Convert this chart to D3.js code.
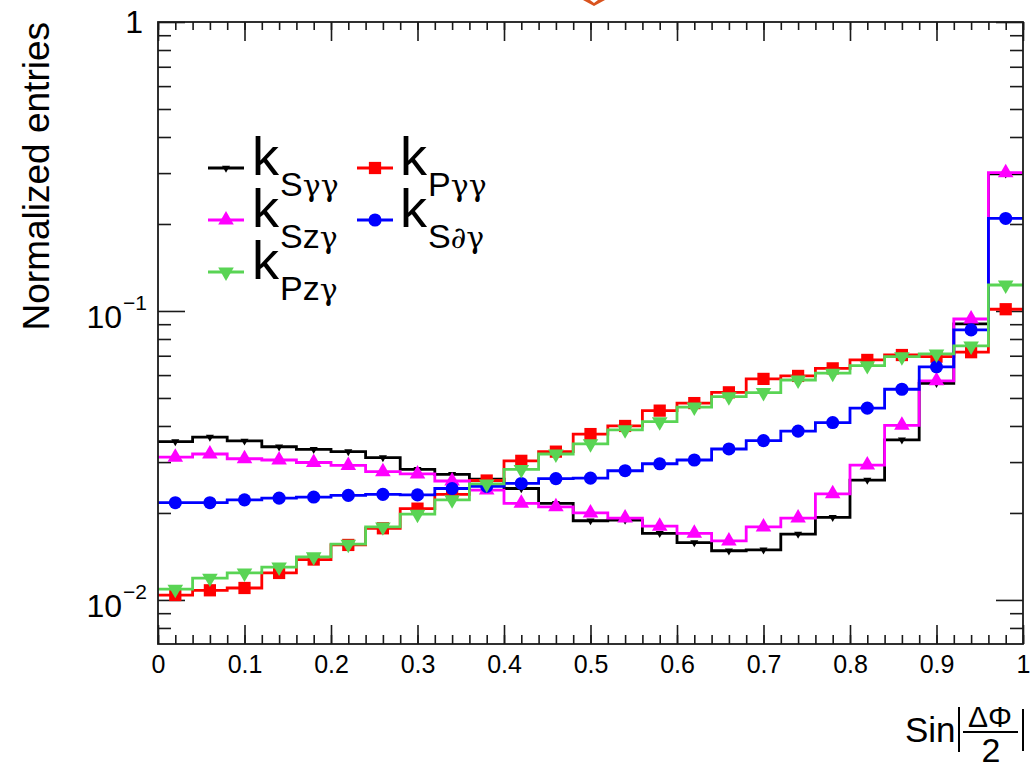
<!DOCTYPE html>
<html>
<head>
<meta charset="utf-8">
<script src="https://cdn.jsdelivr.net/npm/d3@7"></script>
<style>
  html, body { margin: 0; padding: 0; background: #fff; }
  svg { display: block; }
  text { font-family: "Liberation Sans", Arial, Helvetica, sans-serif; fill: #000; }
</style>
</head>
<body>
<svg id="chart" width="1035" height="765"></svg>
<script>
// ---------------- data ----------------
const binEdges = d3.range(0, 26).map(i => i * 0.04);
const binCenters = d3.range(0, 25).map(i => 0.02 + i * 0.04);

const kSgg = [0.0353, 0.0366, 0.0355, 0.0339, 0.0332, 0.0326, 0.0311, 0.0283, 0.0272, 0.0262, 0.0243, 0.0216, 0.0188, 0.0189, 0.0170, 0.0158, 0.0148, 0.0149, 0.0169, 0.0193, 0.0260, 0.0358, 0.0562, 0.0902, 0.298];
const kPgg = [0.0104, 0.0108, 0.0110, 0.0124, 0.0138, 0.0155, 0.0177, 0.0207, 0.0232, 0.0259, 0.0303, 0.0326, 0.0375, 0.0400, 0.0452, 0.0480, 0.0523, 0.0582, 0.0596, 0.0633, 0.0677, 0.0704, 0.0695, 0.0720, 0.1014];
const kSzg = [0.0312, 0.0320, 0.0308, 0.0305, 0.0299, 0.0292, 0.0278, 0.0273, 0.0258, 0.0240, 0.0216, 0.0210, 0.0200, 0.0192, 0.0180, 0.0170, 0.0160, 0.0179, 0.0192, 0.0233, 0.0293, 0.0402, 0.0573, 0.0938, 0.301];
const kSdg = [0.0217, 0.0217, 0.0222, 0.0225, 0.0227, 0.0230, 0.0232, 0.0231, 0.0243, 0.0247, 0.0253, 0.0263, 0.0264, 0.0280, 0.0296, 0.0305, 0.0333, 0.0356, 0.0384, 0.0411, 0.0461, 0.0536, 0.0641, 0.0860, 0.209];
const kPzg = [0.0109, 0.0119, 0.0124, 0.0130, 0.0141, 0.0156, 0.0179, 0.0198, 0.0222, 0.0252, 0.0283, 0.0320, 0.0347, 0.0388, 0.0414, 0.0465, 0.0505, 0.0522, 0.0577, 0.0609, 0.0647, 0.0695, 0.0710, 0.0757, 0.123];

const seriesNames = ["Sγγ", "Pγγ", "Szγ", "S∂γ", "Pzγ"];
const seriesValues = [kSgg, kPgg, kSzg, kSdg, kPzg];
const seriesColors = ["#000000", "#ff0000", "#ff00ff", "#0000ff", "#59d454"];
const seriesMarkers = ["tiny", "square", "triUp", "circle", "triDown"];

const xTickValues = [0, 0.1, 0.2, 0.3, 0.4, 0.5, 0.6, 0.7, 0.8, 0.9, 1];
const xTickLabels = ["0", "0.1", "0.2", "0.3", "0.4", "0.5", "0.6", "0.7", "0.8", "0.9", "1"];
const yMajorTicks = [0.01, 0.1, 1];
const yTickBase = ["10", "10", "1"];
const yTickExp = ["\u22122", "\u22121", ""];
const yMinorTicks = [0.008, 0.009, 0.02, 0.03, 0.04, 0.05, 0.06, 0.07, 0.08, 0.09, 0.2, 0.3, 0.4, 0.5, 0.6, 0.7, 0.8, 0.9];
const xMinorTicks = d3.range(0, 51).map(i => i * 0.02);

const yTitle = "Normalized entries";

// ---------------- layout ----------------
const L = 158, R = 1023, T = 22, B = 644;
const svg = d3.select("#chart");
const x = d3.scaleLinear().domain([0, 1]).range([L, R]);
const y = d3.scaleLog().domain([0.00704, 1]).range([B, T]);
const frameColor = "#1a1a1a";

// small orange glyph at top (clipped title decoration)
svg.append("path").attr("d", "M583,0 L590,0 L594,3 L598,0 L605,0 L594,6 Z").attr("fill", "#d9531e");

// ---------------- axes / ticks ----------------
function styleAxis(g) {
  g.select(".domain").remove();
  g.selectAll(".tick line").attr("stroke", frameColor).attr("stroke-width", 1.6);
}
svg.append("g").attr("transform", `translate(0,${B})`)
  .call(d3.axisBottom(x).tickValues(xTickValues).tickSize(-19).tickSizeOuter(0).tickPadding(11)
    .tickFormat((d, i) => xTickLabels[i]))
  .call(styleAxis)
  .call(g => g.selectAll(".tick text").attr("font-size", 25).attr("font-family", "Liberation Sans, Arial, sans-serif").attr("fill", "#000"));
svg.append("g").attr("transform", `translate(0,${B})`)
  .call(d3.axisBottom(x).tickValues(xMinorTicks).tickSize(-9).tickSizeOuter(0).tickFormat(""))
  .call(styleAxis);
svg.append("g").attr("transform", `translate(0,${T})`)
  .call(d3.axisTop(x).tickValues(xTickValues).tickSize(-19).tickSizeOuter(0).tickFormat(""))
  .call(styleAxis);
svg.append("g").attr("transform", `translate(0,${T})`)
  .call(d3.axisTop(x).tickValues(xMinorTicks).tickSize(-8).tickSizeOuter(0).tickFormat(""))
  .call(styleAxis);
svg.append("g").attr("transform", `translate(${L},0)`)
  .call(d3.axisLeft(y).tickValues(yMajorTicks).tickSize(-27).tickSizeOuter(0).tickFormat(""))
  .call(styleAxis);
svg.append("g").attr("transform", `translate(${L},0)`)
  .call(d3.axisLeft(y).tickValues(yMinorTicks).tickSize(-13).tickSizeOuter(0).tickFormat(""))
  .call(styleAxis);
svg.append("g").attr("transform", `translate(${R},0)`)
  .call(d3.axisRight(y).tickValues(yMajorTicks).tickSize(-27).tickSizeOuter(0).tickFormat(""))
  .call(styleAxis);
svg.append("g").attr("transform", `translate(${R},0)`)
  .call(d3.axisRight(y).tickValues(yMinorTicks).tickSize(-13).tickSizeOuter(0).tickFormat(""))
  .call(styleAxis);

// y tick labels with exponents
yMajorTicks.forEach((v, i) => {
  const t = svg.append("text").attr("text-anchor", "end").attr("x", 147);
  if (yTickExp[i]) {
    t.attr("y", y(v) + 17);
    t.append("tspan").attr("font-size", 32).text(yTickBase[i]);
    t.append("tspan").attr("font-size", 21).attr("dy", -18).attr("dx", 1).text(yTickExp[i]);
  } else {
    t.attr("x", 143).attr("y", y(v) + 11).attr("font-size", 32).text(yTickBase[i]);
  }
});

// y axis title
svg.append("text")
  .attr("transform", `translate(49,${T}) rotate(-90)`)
  .attr("text-anchor", "end")
  .attr("font-size", 37)
  .text(yTitle);

// x axis title: Sin|ΔΦ/2|
svg.append("text").attr("x", 905).attr("y", 742).attr("font-size", 35).text("Sin");
svg.append("text").attr("x", 990).attr("y", 727).attr("font-size", 30).attr("text-anchor", "middle").text("ΔΦ");
svg.append("text").attr("x", 991).attr("y", 762).attr("font-size", 34).attr("text-anchor", "middle").text("2");
svg.append("line").attr("x1", 963).attr("x2", 1018).attr("y1", 732).attr("y2", 732).attr("stroke", "#000").attr("stroke-width", 2);
svg.append("line").attr("x1", 959).attr("x2", 959).attr("y1", 707).attr("y2", 752).attr("stroke", "#000").attr("stroke-width", 2);
svg.append("line").attr("x1", 1023).attr("x2", 1023).attr("y1", 709).attr("y2", 751).attr("stroke", "#000").attr("stroke-width", 2);

// ---------------- histograms ----------------
function markerPath(kind) {
  switch (kind) {
    case "square": return d3.symbol(d3.symbolSquare, 150)();
    case "circle": return d3.symbol(d3.symbolCircle, 135)();
    case "triUp": return d3.symbol(d3.symbolTriangle, 105)();
    case "triDown": return d3.symbol(d3.symbolTriangle, 105)();
    case "tiny": return d3.symbol(d3.symbolTriangle, 28)();
  }
}
function markerRotate(kind) {
  return (kind === "triDown" || kind === "tiny") ? " rotate(180)" : "";
}

const stepLine = d3.line().curve(d3.curveStepAfter).x(d => x(d[0])).y(d => y(d[1]));

const plot = svg.append("g");
seriesValues.forEach((vals, s) => {
  const pts = binEdges.map((e, i) => [e, vals[Math.min(i, vals.length - 1)]]);
  const g = plot.append("g");
  g.append("path").attr("d", stepLine(pts)).attr("fill", "none")
    .attr("stroke", seriesColors[s]).attr("stroke-width", 2.8);
  g.selectAll("path.m").data(vals).join("path").attr("class", "m")
    .attr("d", markerPath(seriesMarkers[s]))
    .attr("transform", (d, i) => `translate(${x(binCenters[i])},${y(d)})${markerRotate(seriesMarkers[s])}`)
    .attr("fill", seriesColors[s]);
});

// frame
svg.append("rect").attr("x", L).attr("y", T).attr("width", R - L).attr("height", B - T)
  .attr("fill", "none").attr("stroke", frameColor).attr("stroke-width", 1.8);

// ---------------- legend ----------------
const legendPos = [
  { lx: 208, tx: 252, base: 175 },
  { lx: 357, tx: 400, base: 175 },
  { lx: 208, tx: 252, base: 227 },
  { lx: 357, tx: 400, base: 227 },
  { lx: 208, tx: 252, base: 279 }
];
seriesNames.forEach((name, s) => {
  const p = legendPos[s];
  const ly = p.base - 7;
  svg.append("line").attr("x1", p.lx).attr("x2", p.lx + 36).attr("y1", ly).attr("y2", ly)
    .attr("stroke", seriesColors[s]).attr("stroke-width", 2.8);
  svg.append("path").attr("d", markerPath(seriesMarkers[s]))
    .attr("transform", `translate(${p.lx + 18},${ly})${markerRotate(seriesMarkers[s])}`)
    .attr("fill", seriesColors[s]);
  const t = svg.append("text").attr("x", p.tx).attr("y", p.base);
  t.append("tspan").attr("font-size", 54).text("k");
  const chars = Array.from(name);
  chars.forEach((c, j) => {
    const ts = t.append("tspan").attr("font-size", 34).text(c);
    if (j === 0) ts.attr("dy", 21).attr("dx", 1);
    if (/[γ∂]/.test(c)) ts.attr("font-family", "DejaVu Serif, Liberation Serif, serif").attr("font-size", 30);
  });
});
</script>
</body>
</html>
